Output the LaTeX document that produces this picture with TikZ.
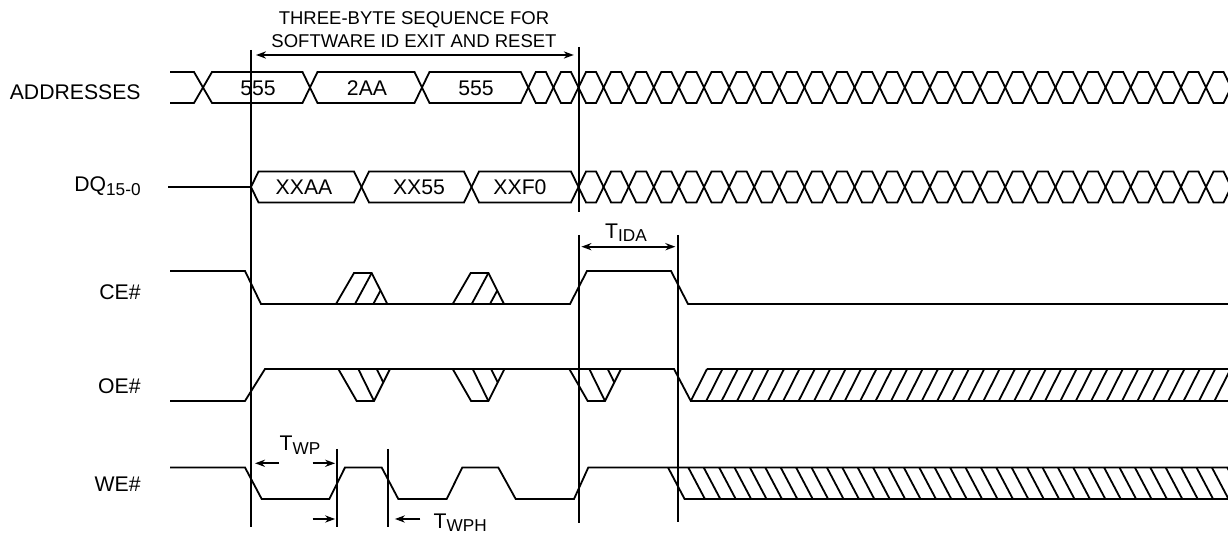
\documentclass[tikz,border=0pt]{standalone}
\usepackage{fontspec}
\setmainfont{Liberation Sans}
\usetikzlibrary{arrows.meta}
\tikzstyle{sig} = [line width=0.9pt]
\tikzstyle{guide} = [line width=0.9pt]
\tikzstyle{tip} = [line width=0.9pt, >={Stealth[length=5pt,width=3.6pt]}]
\tikzstyle{lbl} = [inner sep=0pt, font=\fontsize{10.6}{11.5}\selectfont]
\tikzstyle{note} = [inner sep=0pt, align=center, font=\fontsize{9.25}{11.5}\selectfont]
\newcommand{\tsub}[1]{\raisebox{-1.8pt}{\fontsize{8.6}{10}\selectfont #1}}

\begin{document}
\begin{tikzpicture}[x=0.5pt, y=-0.5pt]
\useasboundingbox (0,0) rectangle (1228,533);
\clip (0,0) rectangle (1228,533);

% Signal names
\node[lbl, anchor=base east] (addr) at (141,99.3) {ADDRESSES};
\node[lbl, anchor=base east] (dq) at (141,192) {DQ\tsub{15-0}};
\node[lbl, anchor=base east] (ce) at (141,300) {CE\#};
\node[lbl, anchor=base east] (oe) at (141,393.3) {OE\#};
\node[lbl, anchor=base east] (we) at (141,491.5) {WE\#};

% Addresses bus
\draw[sig] (170,72) -- (194,72) -- (203,87.5) -- (194,103) -- (170,103);
\draw[sig] (203,87.5) -- (212,72) -- (302.5,72) -- (310,87.5) -- (302.5,103) -- (212,103) -- cycle;
\foreach \a/\b in {310/422, 422/528.3}
  \draw[sig] (\a,87.5) -- ({\a+7.5},72) -- ({\b-7.5},72) -- (\b,87.5) -- ({\b-7.5},103) -- ({\a+7.5},103) -- cycle;
\foreach \i in {0,...,27}
  \draw[sig] ({528.3+25.1*\i},87.5) -- ++(7.5,-15.5) -- ++(10.1,0) -- ++(7.5,15.5) -- ++(-7.5,15.5) -- ++(-10.1,0) -- cycle;
\node[lbl] (adr1) at (258,88) {555};
\node[lbl] (adr2) at (367,88) {2AA};
\node[lbl] (adr3) at (476,88) {555};

% Data bus
\draw[sig] (168,187) -- (251,187);
\foreach \a/\b in {251/361.5, 361.5/471.5, 471.5/578.5}
  \draw[sig] (\a,187) -- ({\a+7.5},171.5) -- ({\b-7.5},171.5) -- (\b,187) -- ({\b-7.5},202.5) -- ({\a+7.5},202.5) -- cycle;
\foreach \i in {2,...,27}
  \draw[sig] ({528.3+25.1*\i},187) -- ++(7.5,-15.5) -- ++(10.1,0) -- ++(7.5,15.5) -- ++(-7.5,15.5) -- ++(-10.1,0) -- cycle;
\node[lbl] (dat1) at (304,187) {XXAA};
\node[lbl] (dat2) at (419,187) {XX55};
\node[lbl] (dat3) at (520,187) {XXF0};

% CE#
\draw[sig] (170,271) -- (245,271) -- (261,304) -- (570,304) -- (587,271) -- (671,271) -- (688,304) -- (1228,304);
\foreach \x in {336,452.7} {
  \draw[sig] (\x,304) -- ++(18,-31) -- ++(17.7,0) -- ++(15.6,31);
  \draw[sig] ({\x+19},304) -- ++(16.7,-31);
  \draw[sig] ({\x+37.3},304) -- ++(7.2,-13.4);
}

% OE#
\draw[sig] (170,401) -- (245,401) -- (265,369) -- (674,369) -- (690.8,401) -- (1228,401);
\draw[sig] (707,369) -- (1228,369);
\foreach \i in {0,...,35}
  \draw[sig] ({690.8+15.4*\i},401) -- ++(16.2,-32);
\foreach \x in {338.3,452.7,569.3} {
  \draw[sig] (\x,369) -- ++(18.4,32) -- ++(17.3,0) -- ++(16,-32);
  \draw[sig] ({\x+20},369) -- ++(15.7,32);
  \draw[sig] ({\x+38.4},369) -- ++(6.6,13.4);
}

% WE#
\draw[sig] (170,467.5) -- (245,467.5) -- (261.7,499) -- (329.3,499) -- (345,467.5) -- (381.7,467.5) -- (398.3,499) -- (446.7,499)
  -- (462.3,467.5) -- (498.3,467.5) -- (515.7,499) -- (574,499) -- (588.3,467.5) -- (1228,467.5);
\draw[sig] (668,467.5) -- (684.6,499) -- (1228,499);
\foreach \i in {0,...,35}
  \draw[sig] ({688.3+15.4*\i},467.5) -- ++(16.6,31.5);

% Reference lines
\draw[guide] (251,50) -- (251,527);
\draw[guide] (578.8,47) -- (578.8,212);
\draw[guide] (578.8,235) -- (578.8,523);
\draw[guide] (678,235) -- (678,522);
\draw[guide] (336.7,449) -- (336.7,527);
\draw[guide] (388.3,449) -- (388.3,527);

% Timing marks
\coordinate (seq0) at (251,55);
\coordinate (seq1) at (578.8,55);
\draw[tip, <->, shorten <=2.5pt, shorten >=2.5pt] (seq0) -- (seq1);
\node[note, anchor=south] (seq) at (414,48.5) {THREE-BYTE SEQUENCE FOR\\SOFTWARE ID EXIT AND RESET};

\coordinate (ida0) at (578.8,246.7);
\coordinate (ida1) at (678,246.7);
\draw[tip, <->, shorten <=1.3pt, shorten >=1.3pt] (ida0) -- (ida1);
\node[lbl, anchor=base] (tida) at (626,238.3) {T\tsub{IDA}};

\coordinate (wp0) at (251,463.3);
\coordinate (wp1) at (336.7,463.3);
\draw[tip, ->, shorten >=2pt] ([xshift=14pt]wp0) -- (wp0);
\draw[tip, ->, shorten >=0.8pt] ([xshift=-12pt]wp1) -- (wp1);
\node[lbl, anchor=base west] (twp) at (279.3,450.7) {T\tsub{WP}};

\coordinate (wph0) at (336.7,519);
\coordinate (wph1) at (388.3,519);
\draw[tip, ->, shorten >=0.8pt] ([xshift=-12pt]wph0) -- (wph0);
\draw[tip, ->, shorten >=3.3pt] ([xshift=16pt]wph1) -- (wph1);
\node[lbl, anchor=base west] (twph) at (433.3,528.3) {T\tsub{WPH}};
\end{tikzpicture}
\end{document}
